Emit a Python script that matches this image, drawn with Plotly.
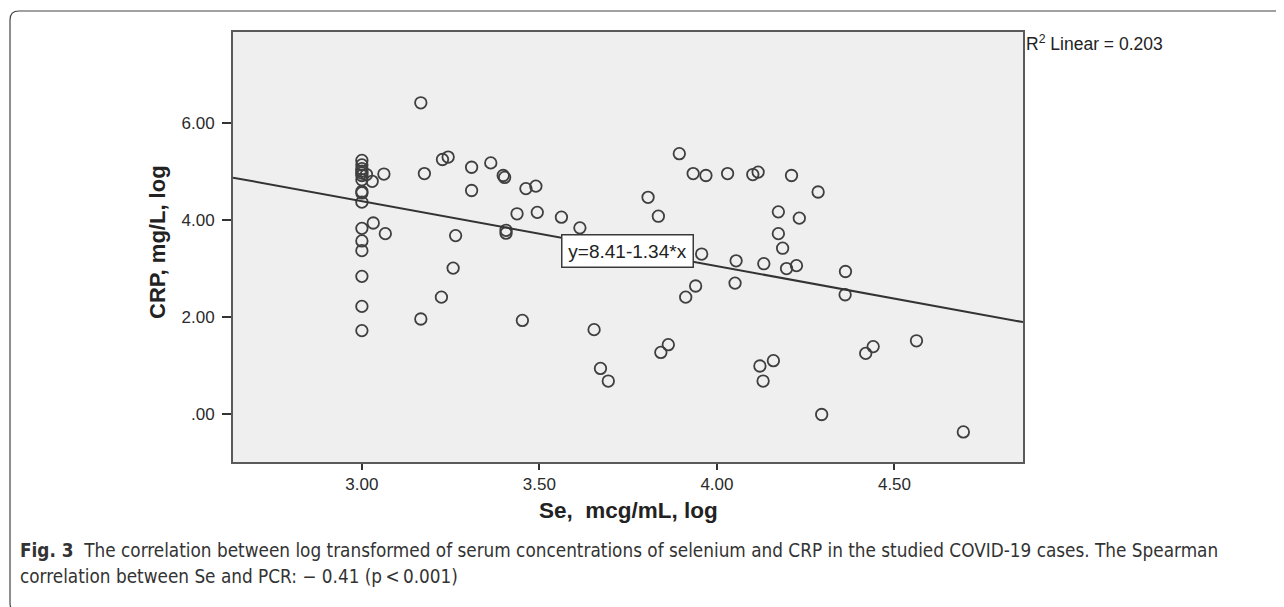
import plotly.graph_objects as go

# ---- data ----
se_log = [3.00, 3.00, 3.00, 3.00, 3.00, 3.00, 3.00, 3.00, 3.00, 3.00, 3.00, 3.00, 3.00, 3.00, 3.00, 3.00,
          3.013, 3.029, 3.062, 3.032, 3.066, 3.166, 3.176, 3.166, 3.227, 3.243, 3.224, 3.257, 3.264,
          3.309, 3.309, 3.363, 3.398, 3.402, 3.406, 3.406, 3.437, 3.452, 3.462, 3.490, 3.494, 3.562,
          3.614, 3.654, 3.672, 3.694, 3.806, 3.835, 3.842, 3.863, 3.894, 3.912, 3.933, 3.940, 3.957,
          3.969, 4.030, 4.051, 4.054, 4.101, 4.116, 4.121, 4.130, 4.132, 4.159, 4.173, 4.173, 4.185,
          4.196, 4.210, 4.224, 4.232, 4.285, 4.295, 4.361, 4.362, 4.419, 4.440, 4.562, 4.694]
crp_log = [5.23, 5.14, 5.06, 5.01, 4.97, 4.92, 4.83, 4.59, 4.56, 4.37, 3.83, 3.57, 3.37, 2.84, 2.22, 1.72,
           4.94, 4.80, 4.95, 3.94, 3.72, 6.42, 4.96, 1.96, 5.25, 5.30, 2.41, 3.01, 3.68,
           5.09, 4.61, 5.18, 4.92, 4.88, 3.79, 3.73, 4.13, 1.93, 4.65, 4.70, 4.16, 4.06,
           3.84, 1.74, 0.94, 0.68, 4.47, 4.08, 1.27, 1.43, 5.37, 2.41, 4.96, 2.64, 3.30,
           4.92, 4.96, 2.70, 3.16, 4.94, 4.99, 0.99, 0.68, 3.10, 1.10, 4.17, 3.72, 3.42,
           3.00, 4.92, 3.06, 4.04, 4.58, -0.01, 2.46, 2.94, 1.25, 1.39, 1.51, -0.37]

fit_intercept = 8.41
fit_slope = -1.34
r2_linear = 0.203

x_tickvals = [3.0, 3.5, 4.0, 4.5]
x_ticktext = ["3.00", "3.50", "4.00", "4.50"]
y_tickvals = [0, 2, 4, 6]
y_ticktext = [".00", "2.00", "4.00", "6.00"]

x_range = [2.637, 4.862]
y_range = [-0.99, 7.88]

# ---- layout geometry (page pixels; the page body adds an 8 px offset) ----
OFF = 8
PAGE_W, PAGE_H = 1284, 607
W, H = PAGE_W - OFF, PAGE_H - OFF
L, R, T, B = 233, 1023, 32, 462          # plot box in page pixels


def px2paper_x(px):
    return (px - L) / (R - L)


def px2paper_y(py):
    return (B - py) / (B - T)


FONT = "Liberation Sans, Arial, sans-serif"
CAP_FONT = "Liberation Sans Narrow, Arial Narrow, DejaVu Sans Condensed, sans-serif"

fig = go.Figure()

fig.add_trace(go.Scatter(
    x=se_log, y=crp_log, mode="markers",
    marker=dict(symbol="circle-open", size=11.5, color="#3f3f3f", line=dict(width=1.8)),
    showlegend=False, hoverinfo="x+y",
))

line_x = [x_range[0], x_range[1]]
line_y = [fit_intercept + fit_slope * v for v in line_x]
fig.add_trace(go.Scatter(
    x=line_x, y=line_y, mode="lines",
    line=dict(color="#333333", width=2),
    showlegend=False, hoverinfo="skip",
))

axis_common = dict(
    showgrid=False, zeroline=False, showline=True, mirror=True,
    linecolor="#5a5a5a", linewidth=2,
    ticks="outside", tickwidth=1.5, tickcolor="#333333",
    tickfont=dict(family=FONT, size=17, color="#2a2a2a"),
)

fig.update_layout(
    width=W, height=H,
    margin=dict(l=L - OFF, r=PAGE_W - R, t=T - OFF, b=PAGE_H - B),
    paper_bgcolor="white",
    plot_bgcolor="#efefef",
    xaxis=dict(range=x_range, tickvals=x_tickvals, ticktext=x_ticktext, ticklen=6,
               **axis_common),
    yaxis=dict(range=y_range, tickvals=y_tickvals, ticktext=y_ticktext, ticklen=9,
               ticklabelstandoff=4, **axis_common),
)

eq_x = 3.749
eq_y = 3.37
annotations = [
    dict(x=eq_x, y=eq_y, xref="x", yref="y", text="y=8.41-1.34*x", showarrow=False,
         xanchor="center", yanchor="middle",
         font=dict(family=FONT, size=19, color="#222222"),
         bgcolor="white", bordercolor="#3a3a3a", borderwidth=1.5, borderpad=3,
         width=124, height=25),
    dict(x=px2paper_x(1024), y=px2paper_y(30), xref="paper", yref="paper",
         xanchor="left", yanchor="top", showarrow=False,
         text="R<sup>2</sup> Linear = %.3f" % r2_linear,
         font=dict(family=FONT, size=17.5, color="#222222")),
    dict(x=px2paper_x(157), y=px2paper_y(242), xref="paper", yref="paper",
         xanchor="center", yanchor="middle",
         textangle=-90, showarrow=False, text="<b>CRP, mg/L, log</b>",
         font=dict(family=FONT, size=22, color="#222222")),
    dict(x=px2paper_x(628), y=px2paper_y(510), xref="paper", yref="paper",
         xanchor="center", yanchor="middle",
         showarrow=False, text="<b>Se,  mcg/mL, log</b>",
         font=dict(family=FONT, size=22.5, color="#222222")),
    dict(x=px2paper_x(18), y=px2paper_y(550), xref="paper", yref="paper",
         xanchor="left", yanchor="middle", showarrow=False,
         text="<b>Fig. 3</b>  The correlation between log transformed of serum concentrations of selenium and CRP in the studied COVID-19 cases. The Spearman",
         font=dict(family=CAP_FONT, size=18.8, color="#333333")),
    dict(x=px2paper_x(18), y=px2paper_y(576), xref="paper", yref="paper",
         xanchor="left", yanchor="middle", showarrow=False,
         text="correlation between Se and PCR: \u2212 0.41 (p\u2009<\u20090.001)",
         font=dict(family=CAP_FONT, size=18.8, color="#333333")),
]
fig.update_layout(annotations=annotations)

# outer rounded frame of the figure panel
fx0, fy0, fx1, fy1, rr = 10, 11, 1300, 612, 9
path = "M {a},{b} L {c},{b} Q {x0},{b} {x0},{d} L {x0},{e} Q {x0},{f} {c},{f}".format(
    a=px2paper_x(fx1), b=px2paper_y(fy0), c=px2paper_x(fx0 + rr), x0=px2paper_x(fx0),
    d=px2paper_y(fy0 + rr), e=px2paper_y(fy1 - rr), f=px2paper_y(fy1))
fig.add_shape(type="path", path=path, xref="paper", yref="paper",
              line=dict(color="#444444", width=1.2), layer="above")

fig.write_html("out.html")
